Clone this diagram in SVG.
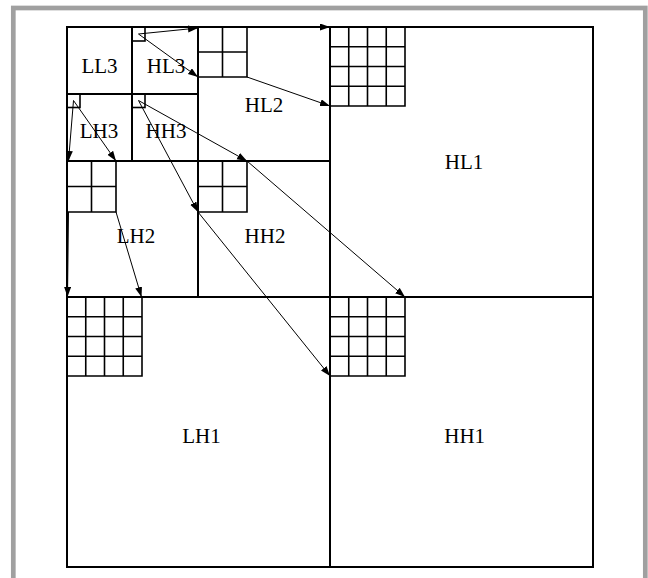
<svg xmlns="http://www.w3.org/2000/svg" width="648" height="578" viewBox="0 0 648 578">
<style>
.frame{fill:none;stroke:#a0a0a0;stroke-width:4.7}
.band{fill:none;stroke:#000;stroke-width:2}
.grid{fill:none;stroke:#000;stroke-width:1.6}
.lbl{font-family:"Liberation Serif","Times New Roman",serif;font-size:21px;fill:#000;text-anchor:middle}
.arr{fill:none;stroke:#000;stroke-width:1;marker-end:url(#ah)}
</style>
<defs>
<marker id="ah" markerUnits="userSpaceOnUse" markerWidth="11" markerHeight="8" refX="10" refY="3.5" orient="auto">
<path d="M0,0 L10,3.5 L0,7 z" fill="#000"/>
</marker>
</defs>
<rect width="648" height="578" fill="#fff"/>
<rect class="frame" x="13.3" y="8" width="632" height="600"/>

<g id="LL3"><rect class="band" x="67" y="27" width="65" height="67"/><text class="lbl" x="99.5" y="73.3">LL3</text></g>
<g id="HL3"><rect class="band" x="132" y="27" width="66" height="67"/><rect class="grid" x="132" y="27" width="13" height="14"/><text class="lbl" x="166" y="73.3">HL3</text></g>
<g id="LH3"><rect class="band" x="67" y="94" width="65" height="67"/><rect class="grid" x="67" y="94" width="13" height="13.5"/><text class="lbl" x="99" y="138.3">LH3</text></g>
<g id="HH3"><rect class="band" x="132" y="94" width="66" height="67"/><rect class="grid" x="132" y="94" width="13" height="13.5"/><text class="lbl" x="166" y="138.3">HH3</text></g>

<g id="HL2"><rect class="band" x="198" y="27" width="132" height="134"/><path class="grid" d="M198,27 H247 V77 H198 M222.5,27 V77 M198,52 H247"/><text class="lbl" x="264" y="111.7">HL2</text></g>
<g id="LH2"><rect class="band" x="67" y="161" width="131" height="136"/><path class="grid" d="M67,161 H116 V212 H67 M91.5,161 V212 M67,186.5 H116"/><text class="lbl" x="136" y="243.3">LH2</text></g>
<g id="HH2"><rect class="band" x="198" y="161" width="132" height="136"/><path class="grid" d="M198,161 H247 V212 H198 M222.5,161 V212 M198,186.5 H247"/><text class="lbl" x="265" y="243.3">HH2</text></g>

<g id="HL1"><rect class="band" x="330" y="27" width="263" height="270"/><path class="grid" d="M330,27 H405 V106 H330 M348.75,27 V106 M367.5,27 V106 M386.25,27 V106 M330,46.75 H405 M330,66.5 H405 M330,86.25 H405"/><text class="lbl" x="464" y="169.3">HL1</text></g>
<g id="LH1"><rect class="band" x="67" y="297" width="263" height="270"/><path class="grid" d="M67,297 H142 V376 H67 M85.75,297 V376 M104.5,297 V376 M123.25,297 V376 M67,316.75 H142 M67,336.5 H142 M67,356.25 H142"/><text class="lbl" x="201.5" y="443.3">LH1</text></g>
<g id="HH1"><rect class="band" x="330" y="297" width="263" height="270"/><path class="grid" d="M330,297 H405 V376 H330 M348.75,297 V376 M367.5,297 V376 M386.25,297 V376 M330,316.75 H405 M330,336.5 H405 M330,356.25 H405"/><text class="lbl" x="464.7" y="443.3">HH1</text></g>

<g id="connectors">
<line class="arr" x1="138.5" y1="34" x2="198" y2="28"/>
<line class="arr" x1="138.5" y1="34" x2="198" y2="77"/>
<line class="arr" x1="247" y1="27" x2="330" y2="27"/>
<line class="arr" x1="247" y1="77" x2="330" y2="106"/>
<line class="arr" x1="73.5" y1="100.5" x2="68.5" y2="161"/>
<line class="arr" x1="73.5" y1="100.5" x2="116" y2="161"/>
<line class="arr" x1="68.5" y1="212" x2="67.5" y2="297"/>
<line class="arr" x1="116" y1="212" x2="141.5" y2="297"/>
<line class="arr" x1="138.5" y1="100.5" x2="198" y2="212"/>
<line class="arr" x1="138.5" y1="100.5" x2="247" y2="161"/>
<line class="arr" x1="198" y1="212" x2="330" y2="376"/>
<line class="arr" x1="247" y1="161" x2="405" y2="297"/>
</g>
</svg>
